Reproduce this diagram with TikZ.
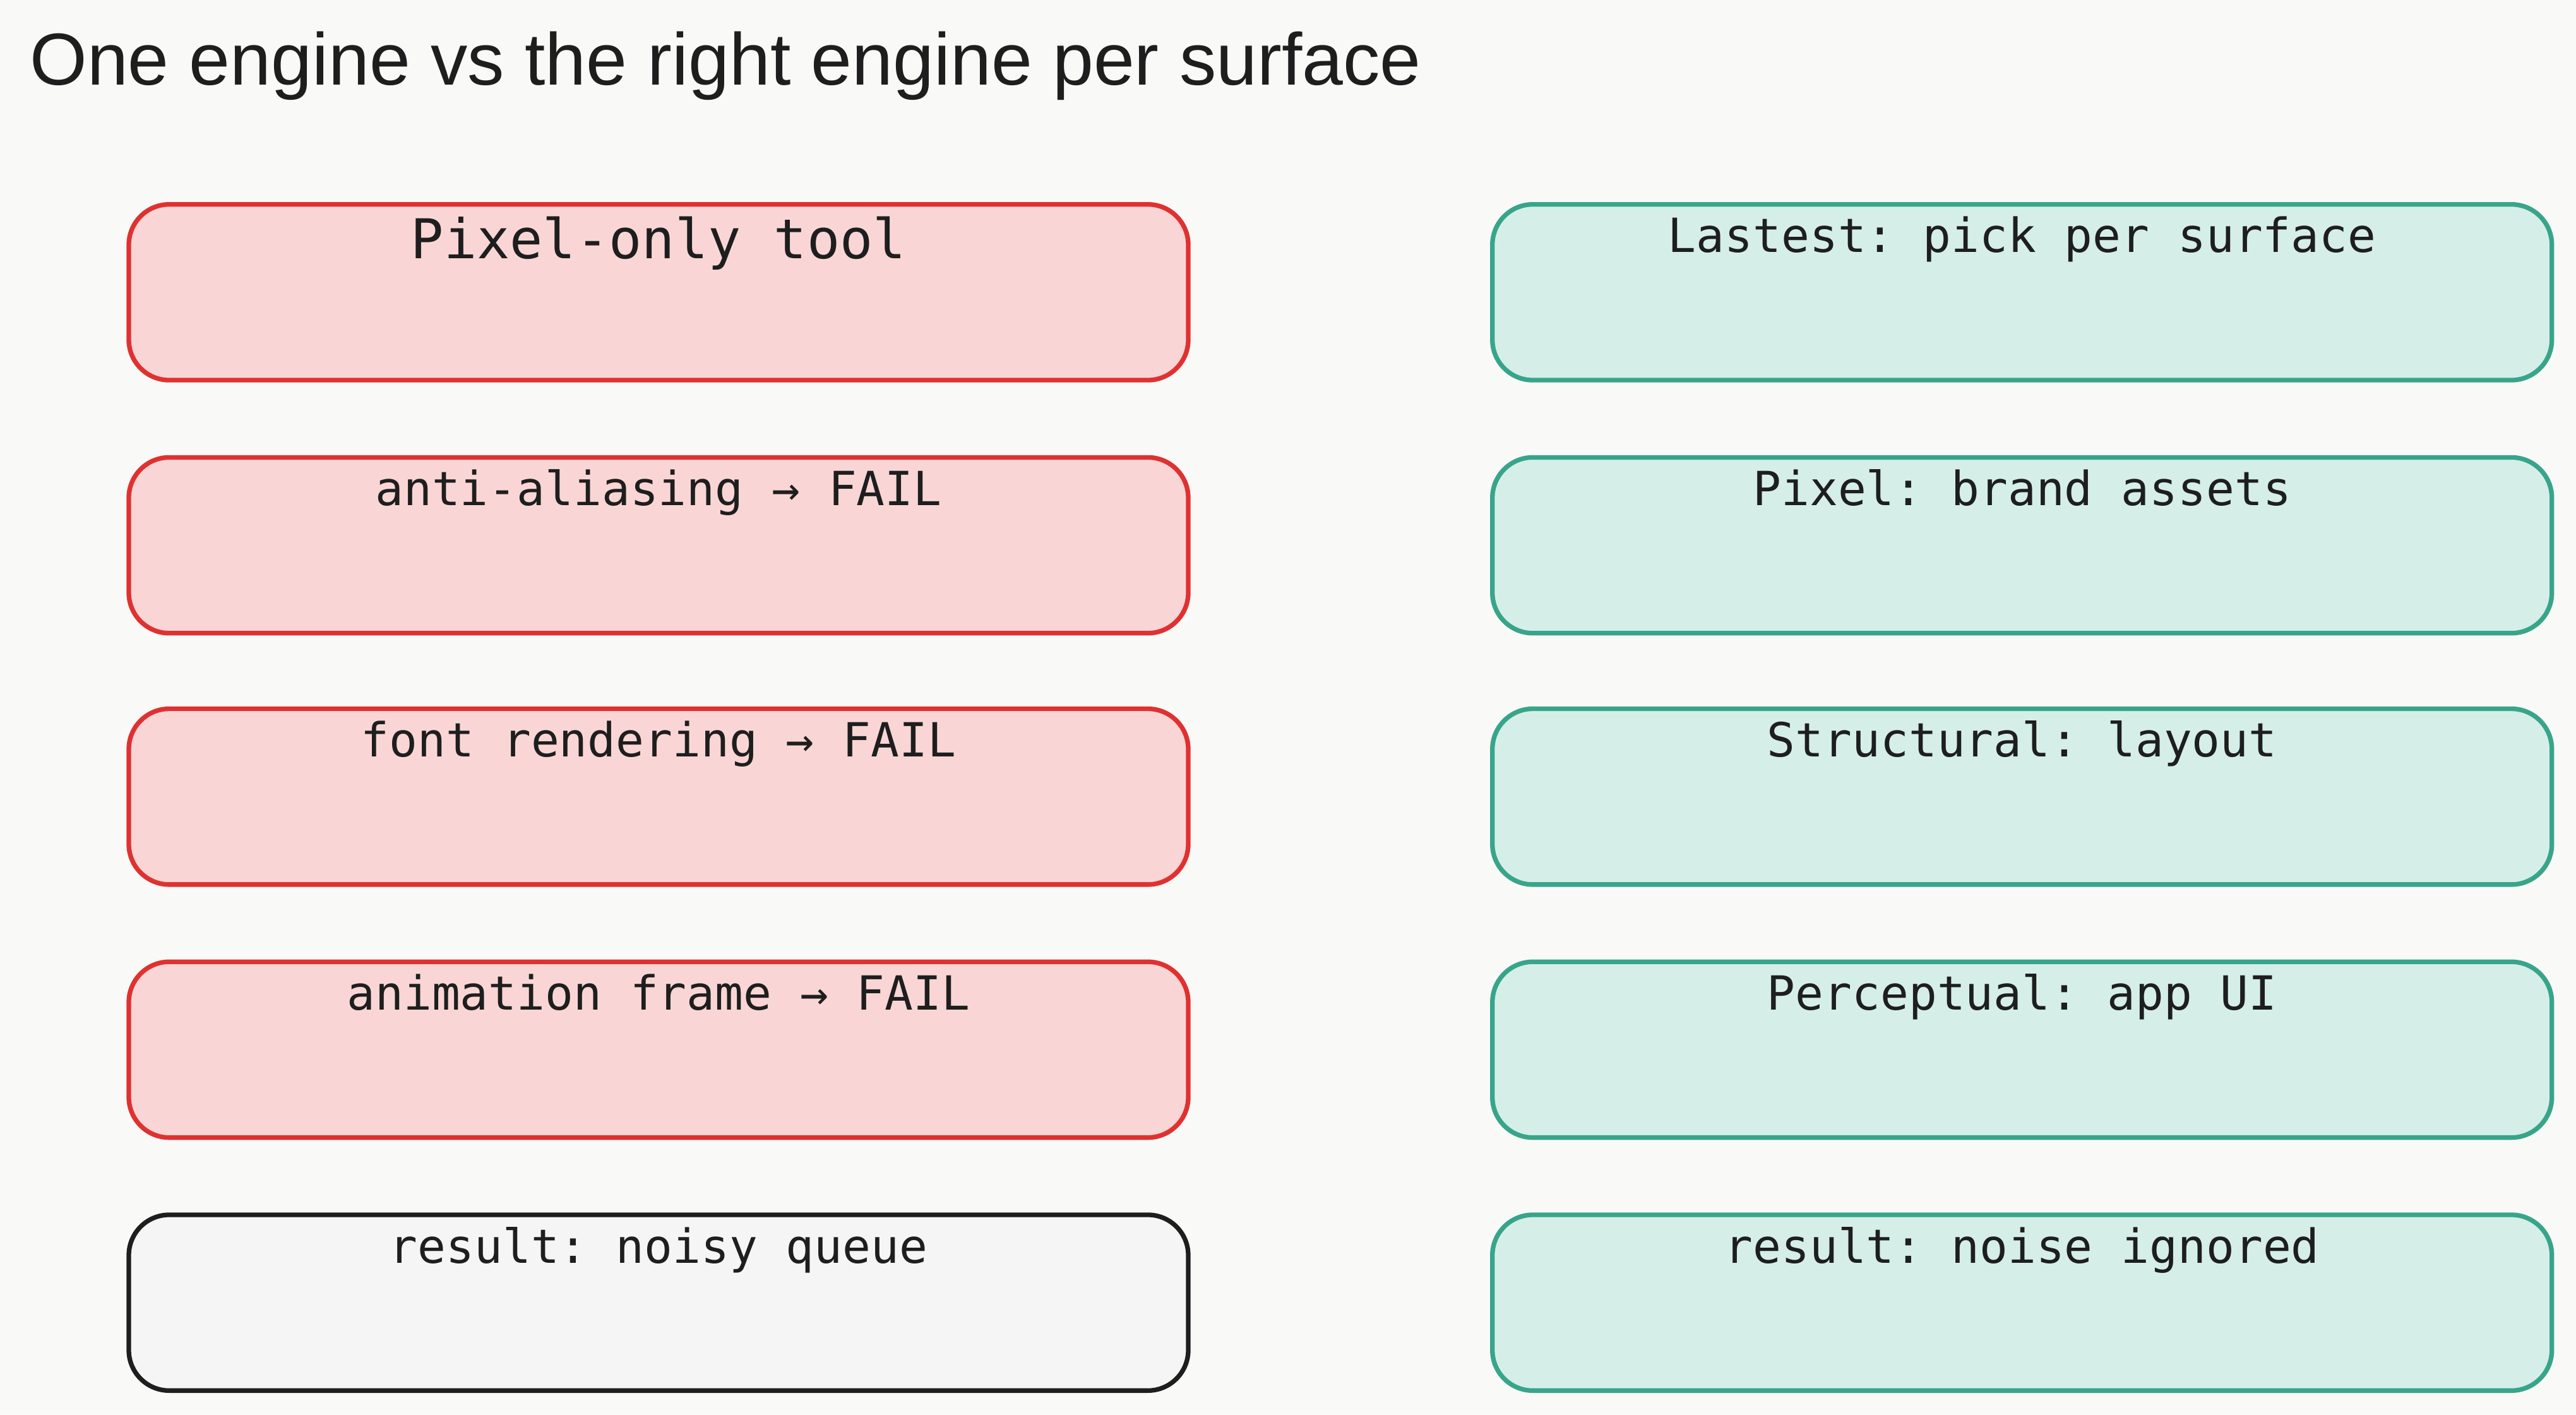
\documentclass[tikz,border=0pt]{standalone}
\usepackage{fontspec}
\setmainfont{Liberation Sans}
\setmonofont{DejaVu Sans Mono}
\usetikzlibrary{positioning}
\definecolor{bgc}{HTML}{F9F9F8}
\definecolor{redline}{HTML}{E03131}
\definecolor{redfill}{HTML}{F9D6D5}
\definecolor{tealline}{HTML}{38A58A}
\definecolor{tealfill}{HTML}{D5EFE8}
\definecolor{inkc}{HTML}{1E1E1E}
\definecolor{greyfill}{HTML}{F5F5F5}
\tikzset{
  box/.style={draw,line width=1.6pt,rounded corners=14pt,minimum width=12.9cm,minimum height=2.14cm,anchor=north west},
  bad/.style={box,draw=redline,fill=redfill},
  good/.style={box,draw=tealline,fill=tealfill},
  plain/.style={box,draw=inkc,fill=greyfill},
  lbl/.style={below=0.1cm,font=\ttfamily\fontsize{16.3}{19}\selectfont,text=inkc,inner sep=2pt}
}
\begin{document}
\begin{tikzpicture}[x=0.02cm,y=-0.02cm]
\fill[bgc] (0,0) rectangle (1568,861);
\node[anchor=west,font=\fontsize{25.5}{29}\selectfont,text=inkc] (title) at (12,40) {One engine vs the right engine per surface};
% left column
\node[bad] (l1) at (77,123) {};
\node[bad] (l2) at (77,277) {};
\node[bad] (l3) at (77,430) {};
\node[bad] (l4) at (77,584) {};
\node[plain] (l5) at (77,738) {};
% right column
\node[good] (r1) at (907,123) {};
\node[good] (r2) at (907,277) {};
\node[good] (r3) at (907,430) {};
\node[good] (r4) at (907,584) {};
\node[good] (r5) at (907,738) {};
% labels
\node[lbl,font=\ttfamily\fontsize{19}{22}\selectfont] (tl1) at (l1.north) {Pixel-only tool};
\node[lbl] (tl2) at (l2.north) {anti-aliasing → FAIL};
\node[lbl] (tl3) at (l3.north) {font rendering → FAIL};
\node[lbl] (tl4) at (l4.north) {animation frame → FAIL};
\node[lbl] (tl5) at (l5.north) {result: noisy queue};
\node[lbl] (tr1) at (r1.north) {Lastest: pick per surface};
\node[lbl] (tr2) at (r2.north) {Pixel: brand assets};
\node[lbl] (tr3) at (r3.north) {Structural: layout};
\node[lbl] (tr4) at (r4.north) {Perceptual: app UI};
\node[lbl] (tr5) at (r5.north) {result: noise ignored};
\end{tikzpicture}
\end{document}
